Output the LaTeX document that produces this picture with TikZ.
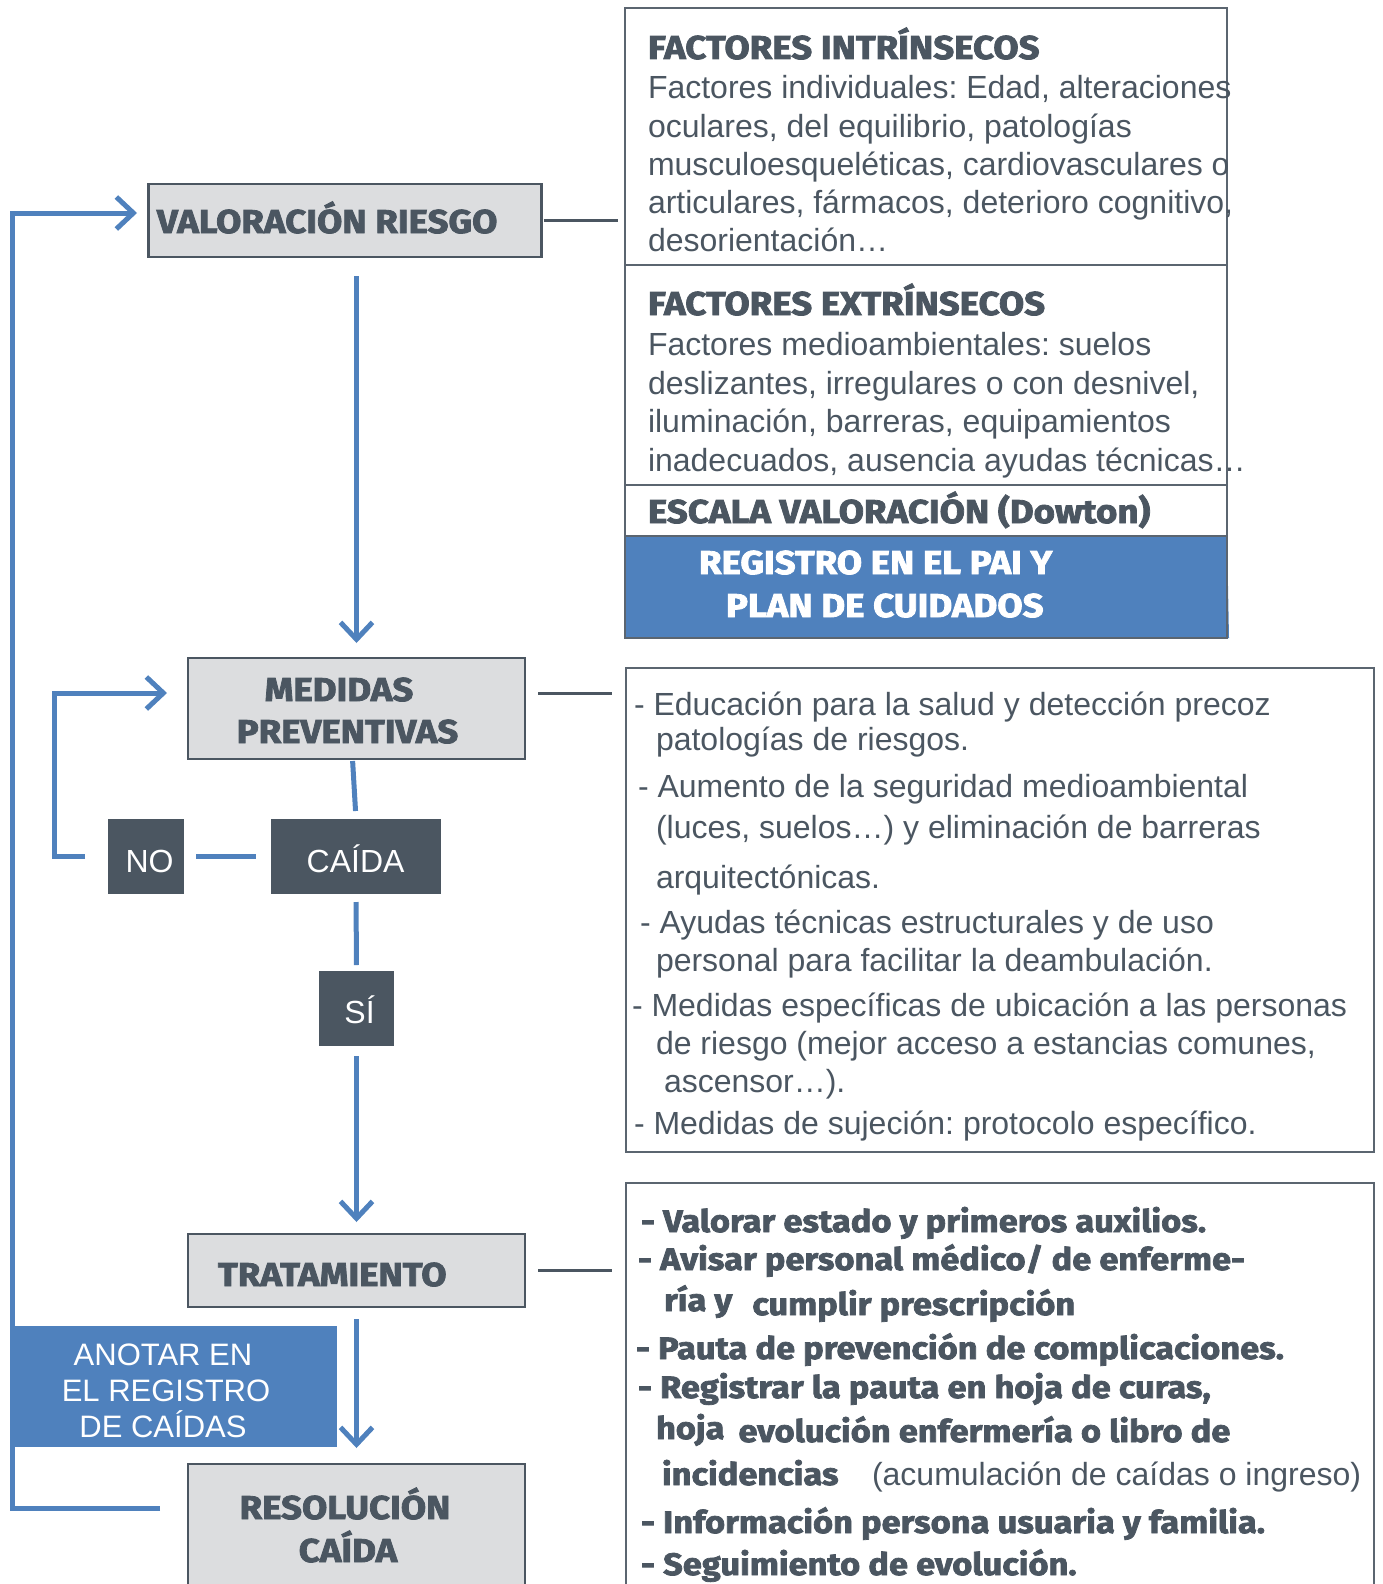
\documentclass[tikz,border=0pt]{standalone}
\usepackage{fontspec}
\setmainfont{Liberation Sans}
\newfontfamily\hdfont{Fira Sans}[BoldFeatures={FakeBold=2.4, FakeStretch=1.11}]
\usetikzlibrary{arrows.meta}
\frenchspacing

\definecolor{slate}{HTML}{4B5661}
\definecolor{boxgray}{HTML}{DCDDDF}
\definecolor{flowblue}{HTML}{4F81BD}
\definecolor{rulegray}{HTML}{5B6570}

\tikzset{
  every node/.style={inner sep=0pt, outer sep=0pt},
  stagebox/.style={rectangle, draw=slate, line width=2.5pt, fill=boxgray},
  tagbox/.style={rectangle, fill=slate},
  notebox/.style={rectangle, fill=flowblue},
  panel/.style={rectangle, draw=rulegray, line width=2.5pt},
  link/.style={draw=flowblue, line width=5pt},
  arrowed/.style={-{Straight Barb[length=17pt, width=32pt]}},
  tie/.style={draw=slate, line width=3pt},
  body/.style={font=\fontsize{32}{38}\selectfont, text=slate, anchor=base west},
  head/.style={font=\hdfont\bfseries\fontsize{33}{38}\selectfont, text=slate},
  strong/.style={font=\hdfont\bfseries\fontsize{31}{38}\selectfont, text=slate, anchor=base west},
  tagtext/.style={font=\fontsize{32}{38}\selectfont, text=white, anchor=base},
}

\begin{document}
\begin{tikzpicture}[x=1pt, y=-1pt]
\useasboundingbox (0,0) rectangle (1382,1584);
\clip (0,0) rectangle (1382,1584);

% ---------- flow column ----------
\node[stagebox, minimum width=393pt, minimum height=73pt] (val) at (345,220.5) {};
\node[head, anchor=base west] (valT) at (157,233) {VALORACIÓN RIESGO};

\node[stagebox, minimum width=337pt, minimum height=101pt] (med) at (356.5,708.5) {};
\node[head, anchor=base] (medT1) at (339,701) {MEDIDAS};
\node[head, anchor=base] (medT2) at (347.5,743) {PREVENTIVAS};

\node[tagbox, minimum width=76pt, minimum height=75pt] (no) at (146,856.5) {};
\node[tagtext] (noT) at (149.5,872) {NO};
\node[tagbox, minimum width=170pt, minimum height=75pt] (caida) at (356,856.5) {};
\node[tagtext] (caidaT) at (355.6,872) {CAÍDA};
\node[tagbox, minimum width=75pt, minimum height=75pt] (si) at (356.5,1008.5) {};
\node[tagtext] (siT) at (359.6,1023) {SÍ};

\node[stagebox, minimum width=337pt, minimum height=73pt] (trat) at (356.5,1270.5) {};
\node[head, anchor=base west] (tratT) at (218,1286) {TRATAMIENTO};

\node[notebox, minimum width=325pt, minimum height=121pt] (anot) at (174.5,1386.5) {};
\node[tagtext, font=\fontsize{31}{36}\selectfont] (anotT1) at (163,1365) {ANOTAR EN};
\node[tagtext, font=\fontsize{31}{36}\selectfont] (anotT2) at (166,1401) {EL REGISTRO};
\node[tagtext, font=\fontsize{31}{36}\selectfont] (anotT3) at (163,1437) {DE CAÍDAS};

\node[stagebox, minimum width=337pt, minimum height=176pt] (res) at (356.5,1552) {};
\node[head, anchor=base] (resT1) at (345,1519) {RESOLUCIÓN};
\node[head, anchor=base] (resT2) at (348,1562) {CAÍDA};

% ---------- blue connectors ----------
\draw[link, arrowed, shorten <=19pt, shorten >=15pt] (med.north |- val.south) -- (med.north);
\draw[link, shorten <=2pt, shorten >=8pt] ([xshift=-4pt]med.south) -- (caida.north);
\draw[link, shorten <=8pt, shorten >=6pt] (caida.south) -- (si.north);
\draw[link, arrowed, shorten <=10pt, shorten >=12pt] (si.south) -- (trat.north);
\draw[link, arrowed, shorten <=12pt, shorten >=16pt] (trat.south) -- (res.north);
\draw[link, shorten <=12pt, shorten >=15pt] (no.east) -- (caida.west);

\coordinate (medIn) at (188,693);
\draw[link, arrowed, shorten <=23pt, shorten >=21pt] (no.west) -- ++(-53.5,0) |- (medIn);

\coordinate (resOut) at (188,1508);
\coordinate (valIn) at (148.5,213);
\draw[link, arrowed, shorten <=28pt, shorten >=11.5pt] (resOut) -- ++(-176,0) |- (valIn);

% ---------- side panels ----------
\fill[flowblue] (625,536) -- (1227,536) -- (1229,638) -- (625,638) -- cycle;
\node[panel, minimum width=602pt, minimum height=630pt] (p1) at (926,323) {};
\draw[rulegray, line width=1.5pt] (p1.west |- 0,265) -- (p1.east |- 0,265);
\draw[rulegray, line width=1.5pt] (p1.west |- 0,485) -- (p1.east |- 0,485);
\draw[rulegray, line width=1.5pt] (p1.west |- 0,536) -- (p1.east |- 0,536);

\node[panel, minimum width=748pt, minimum height=484pt] (p2) at (1000,910) {};
\node[panel, minimum width=748pt, minimum height=457pt] (p3) at (1000,1411.5) {};

% ties from stages to panels
\draw[tie, shorten <=2pt, shorten >=7pt] (val.east) -- (val.east -| p1.west);
\coordinate (medOut) at (525,693);
\draw[tie, shorten <=13pt, shorten >=14pt] (medOut) -- (medOut -| p2.west);
\draw[tie, shorten <=13pt, shorten >=14pt] (trat.east) -- (trat.east -| p2.west);

% ---------- panel 1: risk factors ----------
\node[head, anchor=base west] (fiH) at (648,59) {FACTORES INTRÍNSECOS};
\foreach \y/\t [count=\i] in {
  99/{Factores individuales: Edad, alteraciones},
  137/{oculares, del equilibrio, patologías},
  175/{musculoesqueléticas, cardiovasculares o},
  213/{articulares, fármacos, deterioro cognitivo,},
  251/{desorientación…}}
  \node[body] (fi\i) at (648,\y) {\t};

\node[head, anchor=base west] (feH) at (648,315) {FACTORES EXTRÍNSECOS};
\foreach \y/\t [count=\i] in {
  355/{Factores medioambientales: suelos},
  394/{deslizantes, irregulares o con desnivel,},
  432/{iluminación, barreras, equipamientos},
  471/{inadecuados, ausencia ayudas técnicas…}}
  \node[body] (fe\i) at (648,\y) {\t};

\node[head, anchor=base west] (esc) at (648,523) {ESCALA VALORACIÓN (Dowton)};
\node[head, anchor=base west, text=white] (reg1) at (699,574) {REGISTRO EN EL PAI Y};
\node[head, anchor=base west, text=white] (reg2) at (726,617) {PLAN DE CUIDADOS};

% ---------- panel 2: preventive measures ----------
\foreach \x/\y/\t [count=\i] in {
  634/715/{- Educación para la salud y detección precoz},
  656/750/{patologías de riesgos.},
  638/797/{- Aumento de la seguridad medioambiental},
  656/838/{(luces, suelos…) y eliminación de barreras},
  656/888/{arquitectónicas.},
  640/933/{- Ayudas técnicas estructurales y de uso},
  656/971/{personal para facilitar la deambulación.},
  632/1016/{- Medidas específicas de ubicación a las personas},
  656/1054/{de riesgo (mejor acceso a estancias comunes,},
  664/1092/{ascensor…).},
  634/1134/{- Medidas de sujeción: protocolo específico.}}
  \node[body] (pm\i) at (\x,\y) {\t};

% ---------- panel 3: treatment ----------
\node[strong] (tr1) at (641,1232) {- Valorar estado y primeros auxilios.};
\node[strong] (tr2) at (638,1270) {- Avisar personal médico/ de enferme-};
\node[strong] (tr3) at (664,1315) {\raisebox{4pt}{ría y}\hspace{20pt}cumplir prescripción};
\node[strong] (tr4) at (636,1359) {- Pauta de prevención de complicaciones.};
\node[strong] (tr5) at (638,1398) {- Registrar la pauta en hoja de curas,};
\node[strong] (tr6) at (656,1442) {\raisebox{3pt}{hoja}\hspace{14pt}evolución enfermería o libro de};
\node[strong] (tr7) at (662,1485) {incidencias};
\node[body] (tr7b) at (872,1485) {(acumulación de caídas o ingreso)};
\node[strong] (tr8) at (641,1533) {- Información persona usuaria y familia.};
\node[strong] (tr9) at (641,1575) {- Seguimiento de evolución.};

\end{tikzpicture}
\end{document}
